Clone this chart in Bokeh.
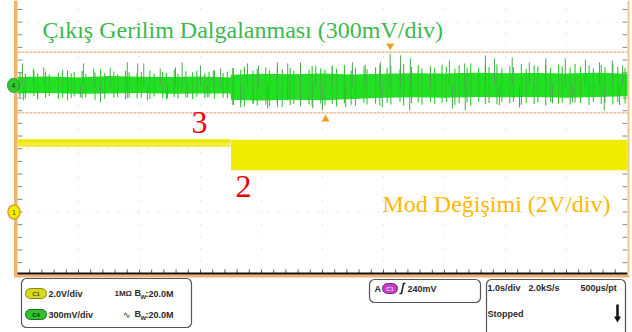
from bokeh.plotting import figure
from bokeh.models import Range1d, BoxAnnotation
from bokeh.core.properties import value
from bokeh.embed import file_html
from bokeh.resources import INLINE

# ---------------- acquisition settings ----------------
SEC_PER_DIV = 1.0          # horizontal: 1.0 s/div, 10 divisions
C1_V_PER_DIV = 2.0         # channel 1: mode change signal
C4_MV_PER_DIV = 300.0      # channel 4: output voltage ripple
C4_OFFSET_DIV = 2.0        # C4 ground marker sits two divisions above C1's

# ---------------- channel 4: output voltage ripple (mV about its marker) --------
c4_core_t = [0.0, 0.5, 1.0, 1.5, 2.0, 2.5, 3.0, 3.49, 3.5, 4.0, 4.5, 5.0,
             5.5, 6.0, 6.5, 7.0, 7.5, 8.0, 8.5, 9.0, 9.5, 10.0]
c4_core_hi = [40, 42, 38, 44, 41, 40, 42, 38, 50, 55, 53, 56,
              52, 55, 58, 56, 60, 57, 59, 56, 60, 55]
c4_core_lo = [-38, -36, -40, -38, -36, -40, -38, -38, -68, -72, -68, -70,
              -65, -58, -56, -58, -55, -56, -55, -58, -55, -52]

# dense ripple excursions (upper / lower extent at each instant)
c4_ripple_t = [0.04, 0.13, 0.27, 0.33, 0.46, 0.52, 0.67, 0.74, 0.88, 0.93,
               1.06, 1.12, 1.27, 1.36, 1.43, 1.58, 1.64, 1.77, 1.83, 1.96,
               2.03, 2.17, 2.24, 2.38, 2.44, 2.57, 2.63, 2.76, 2.87, 2.94,
               3.07, 3.14, 3.23, 3.37, 3.44, 3.53, 3.66, 3.72, 3.86, 3.93,
               4.07, 4.13, 4.26, 4.34, 4.47, 4.53, 4.64, 4.78, 4.83, 4.97,
               5.04, 5.16, 5.23, 5.36, 5.47, 5.54, 5.68, 5.73, 5.87, 5.94,
               6.06, 6.12, 6.27, 6.33, 6.46, 6.57, 6.63, 6.77, 6.84, 6.96,
               7.03, 7.17, 7.24, 7.37, 7.43, 7.56, 7.67, 7.73, 7.86, 7.94,
               8.07, 8.13, 8.26, 8.34, 8.47, 8.53, 8.66, 8.74, 8.87, 8.93,
               9.06, 9.14, 9.23, 9.37, 9.44, 9.57, 9.63, 9.76, 9.84, 9.96]
c4_ripple_hi = [62, 55, 70, 58, 66, 52, 60, 72, 57, 64,
                68, 54, 61, 75, 59, 66, 53, 70, 62, 58,
                65, 71, 56, 63, 60, 74, 55, 67, 61, 69,
                57, 64, 72, 59, 66, 82, 74, 88, 70, 79,
                85, 72, 90, 77, 83, 69, 87, 75, 92, 80,
                74, 88, 79, 95, 71, 84, 90, 76, 86, 98,
                83, 92, 78, 101, 87, 95, 80, 90, 84, 99,
                88, 79, 96, 85, 104, 82, 93, 87, 100, 81,
                91, 86, 102, 78, 95, 89, 97, 84, 99, 90,
                85, 101, 88, 94, 80, 97, 86, 103, 89, 84]
c4_ripple_lo = [-55, -62, -50, -66, -58, -52, -64, -57, -60, -53,
                -61, -56, -68, -52, -63, -58, -55, -66, -59, -62,
                -57, -64, -53, -60, -67, -55, -62, -58, -65, -54,
                -60, -56, -63, -58, -61, -92, -85, -100, -88, -95,
                -90, -98, -84, -102, -93, -87, -99, -91, -96, -86,
                -94, -88, -100, -85, -92, -97, -83, -90, -87, -95,
                -82, -90, -78, -95, -85, -80, -92, -76, -88, -84,
                -79, -93, -85, -81, -97, -77, -89, -84, -91, -80,
                -86, -78, -92, -83, -88, -80, -95, -79, -87, -82,
                -90, -81, -85, -93, -78, -88, -84, -91, -80, -86]

# largest excursions
c4_peak_up_t = [0.08, 0.26, 0.43, 0.82, 1.08, 1.25, 1.52, 1.80, 1.97, 2.07, 2.34,
                2.59, 2.70, 3.00, 3.21, 3.33, 3.54, 3.77, 3.95, 4.26, 4.43, 4.64,
                4.89, 5.16, 5.49, 5.70, 5.95, 6.11, 6.28, 6.44, 6.77, 7.08, 7.33,
                7.67, 7.82, 8.11, 8.39, 8.66, 8.98, 9.31, 9.54, 9.75, 9.92]
c4_peak_up_mv = [104, 80, 85, 71, 104, 80, 85, 109, 104, 104, 80,
                 85, 109, 94, 71, 80, 80, 104, 94, 109, 104, 109,
                 94, 94, 109, 99, 109, 151, 142, 128, 85, 118, 104,
                 142, 128, 132, 109, 128, 128, 123, 109, 118, 94]
c4_peak_dn_t = [0.10, 0.33, 0.82, 1.03, 1.36, 1.80, 2.13, 2.46, 2.79, 3.11, 3.54,
                3.66, 3.87, 4.10, 4.26, 4.43, 4.64, 4.84, 5.00, 5.38, 5.98, 6.43,
                7.13, 7.34, 7.90, 8.23, 8.77, 9.10, 9.62, 9.87]
c4_peak_dn_mv = [-71, -61, -71, -57, -80, -61, -71, -61, -57, -57, -94,
                 -104, -85, -109, -104, -71, -94, -109, -118, -104, -104, -118,
                 -109, -118, -94, -104, -85, -80, -118, -94]

# ---------------- channel 1: mode change signal (V) ----------------
c1_t = [0.0, 3.49, 3.5, 10.0]
c1_hi = [2.30, 2.30, 2.28, 2.28]
c1_lo = [2.05, 2.05, 1.32, 1.32]

# ---------------- cursors (C4 units, mV) ----------------
cursor_mv = [158, -130]
cursor_mark_t = [6.11, 5.05]

# ---------------- screen geometry (pixels of the 632x332 page) ----------------
W, H = 632, 332
GRID_LEFT, DIV_W = 17.0, 61.0
ZERO_Y, DIV_H = 211.5, 63.3


def X(px):
    return (px - GRID_LEFT) / DIV_W * SEC_PER_DIV


def Y(py):
    return (ZERO_Y - py) / DIV_H


def c4(mv):
    return C4_OFFSET_DIV + mv / C4_MV_PER_DIV


def c1(v):
    return v / C1_V_PER_DIV


p = figure(width=W, height=H, output_backend="svg", toolbar_location=None,
           x_range=Range1d(X(0), X(W)), y_range=Range1d(Y(H), Y(0)),
           min_border=0, background_fill_color="white",
           border_fill_color="white", outline_line_color=None)
p.axis.visible = False
p.grid.visible = False

BOTTOM = 273.0
RIGHT = GRID_LEFT + 10 * DIV_W

# dotted graticule
grid_x = [1, 2, 3, 4, 5, 6, 7, 8, 9]
grid_y = [-1, 0, 1, 2, 3]
p.segment(x0=grid_x, y0=[Y(BOTTOM)] * 9, x1=grid_x, y1=[Y(0)] * 9,
          line_color="#cccccc", line_width=1, line_dash="1 11")
p.segment(x0=[0] * 5, y0=grid_y, x1=[10] * 5, y1=grid_y,
          line_color="#cccccc", line_width=1, line_dash="1 9")

# edge ticks (5 minor per division)
minor_y = [k / 5 for k in range(-4, 17)]
p.segment(x0=[0] * len(minor_y), y0=minor_y, x1=[X(GRID_LEFT + 5)] * len(minor_y),
          y1=minor_y, line_color="#888888", line_width=1)
p.segment(x0=[10] * len(minor_y), y0=minor_y, x1=[X(RIGHT - 5)] * len(minor_y),
          y1=minor_y, line_color="#888888", line_width=1)
minor_x = [k / 5 for k in range(1, 50)]
p.segment(x0=minor_x, y0=[Y(BOTTOM)] * len(minor_x), x1=minor_x,
          y1=[Y(BOTTOM - 4)] * len(minor_x), line_color="#555555", line_width=1)

# frame edges
p.quad(left=X(13.5), right=X(GRID_LEFT), bottom=Y(BOTTOM + 3), top=Y(0),
       fill_color="#efb070", line_color=None)
p.quad(left=X(13.5), right=X(RIGHT + 2), bottom=Y(BOTTOM + 4), top=Y(BOTTOM + 1),
       fill_color="#efb070", line_color=None)
p.segment(x0=[X(GRID_LEFT)], y0=[Y(BOTTOM)], x1=[X(RIGHT)], y1=[Y(BOTTOM)],
          line_color="#111111", line_width=2)
p.segment(x0=[X(RIGHT + 1)], y0=[Y(BOTTOM)], x1=[X(RIGHT + 1)], y1=[Y(0)],
          line_color="#f0c890", line_width=2)

# cursor lines
for mv in cursor_mv:
    p.segment(x0=[0], y0=[c4(mv)], x1=[10], y1=[c4(mv)],
              line_color="#e8b070", line_width=1.2, line_dash="3 1")
p.scatter(x=[cursor_mark_t[0]], y=[c4(cursor_mv[0]) + 0.1], marker="inverted_triangle",
          size=8, fill_color="#f0a020", line_color=None)
p.scatter(x=[cursor_mark_t[1]], y=[c4(cursor_mv[1]) - 0.1], marker="triangle",
          size=8, fill_color="#f0a020", line_color=None)

# channel 4 trace
p.varea(x=c4_core_t, y1=[c4(v) for v in c4_core_lo], y2=[c4(v) for v in c4_core_hi],
        fill_color="#22e022")
p.segment(x0=c4_ripple_t, y0=[c4(v) for v in c4_ripple_lo], x1=c4_ripple_t,
          y1=[c4(v) for v in c4_ripple_hi], line_color="#2ec82e", line_width=1.1)
p.segment(x0=c4_peak_up_t, y0=[c4(0)] * len(c4_peak_up_t), x1=c4_peak_up_t,
          y1=[c4(v) for v in c4_peak_up_mv], line_color="#4aa852", line_width=1)
p.segment(x0=c4_peak_dn_t, y0=[c4(0)] * len(c4_peak_dn_t), x1=c4_peak_dn_t,
          y1=[c4(v) for v in c4_peak_dn_mv], line_color="#4aa852", line_width=1)

# channel 1 trace: thin band before the switch, wide band after it
p.varea(x=c1_t[:2], y1=[c1(v) for v in c1_lo[:2]], y2=[c1(v) for v in c1_hi[:2]],
        fill_color="#f2ee40")
p.line(x=c1_t[:2], y=[c1(v) - 0.03 for v in c1_hi[:2]], line_color="#ece800",
       line_width=3)
p.varea(x=c1_t[2:], y1=[c1(v) for v in c1_lo[2:]], y2=[c1(v) for v in c1_hi[2:]],
        fill_color="#f0ec00")

# channel ground markers
p.ellipse(x=[X(13)], y=[c4(0)], width=12 / DIV_W, height=14 / DIV_H,
          fill_color="#30c830", line_color="#20a020")
p.text(x=[X(13)], y=[c4(0)], text=["4"], text_font_size="7px",
       text_align="center", text_baseline="middle", text_color="#0a3a0a")
p.ellipse(x=[X(13.5)], y=[c1(0)], width=12 / DIV_W, height=14 / DIV_H,
          fill_color="#f0f000", line_color="#e0a020", line_width=1.5)
p.text(x=[X(13.5)], y=[c1(0)], text=["1"], text_font_size="7px",
       text_align="center", text_baseline="middle", text_color="#3a3a00")

# annotations on the traces (y = vertical centre of the capitals)
serif = value("Liberation Serif")
p.text(x=[X(42)], y=[Y(29)], text=["Çıkış Gerilim Dalgalanması (300mV/div)"],
       text_font=serif, text_font_size="24px", text_color="#3cb850",
       text_baseline="middle")
p.text(x=[X(382)], y=[Y(203)], text=["Mod Değişimi (2V/div)"],
       text_font=serif, text_font_size="24px", text_color="#ffb800",
       text_baseline="middle")
p.text(x=[X(191)], y=[Y(122)], text=["3"], text_font=serif,
       text_font_size="32px", text_color="#ee0000", text_baseline="middle")
p.text(x=[X(235)], y=[Y(186)], text=["2"], text_font=serif,
       text_font_size="32px", text_color="#ee0000", text_baseline="middle")


# ---------------- status panels ----------------
def panel(left, right, top, bottom, fill="white", line="#555555", radius=5, lw=1.2):
    p.add_layout(BoxAnnotation(left=X(left), right=X(right), top=Y(top), bottom=Y(bottom),
                               fill_color=fill, fill_alpha=1, line_color=line,
                               line_width=lw, line_alpha=1, border_radius=radius,
                               level="underlay"))


sans = value("Liberation Sans")


def label(px, py, txt, size="9px", color="#2a2a2a", align="left", bold=True):
    p.text(x=[X(px)], y=[Y(py)], text=[txt], text_font=sans, text_font_size=size,
           text_color=color, text_align=align, text_baseline="middle",
           text_font_style="bold" if bold else "normal")


panel(21, 191, 278, 327)
panel(369, 480, 279, 302)
panel(486, 625, 279, 340)

panel(25, 46, 288, 298, fill="#d8d820", line="#8a8a00", lw=1)
label(35.5, 293.5, "C1", size="6px", align="center", color="#4a4a00")
label(48, 293, "2.0V/div")
label(114, 293, "1MΩ", size="8px")
label(134, 292, "B")
label(140, 296, "W", size="6px")
label(145, 293, ":20.0M")

panel(25, 46, 309, 319, fill="#30c030", line="#187018", lw=1)
label(35.5, 314.5, "C4", size="6px", align="center", color="#0a300a")
label(48, 314, "300mV/div")
label(122, 314, "∿", size="9px", bold=False)
label(134, 313, "B")
label(140, 317, "W", size="6px")
label(145, 314, ":20.0M")

label(374, 288, "A")
panel(382, 397, 283, 293, fill="#c040c8", line="#802088", lw=1)
label(389.5, 288.5, "C1", size="6px", align="center", color="#f0d0f0")
p.line(x=[X(399), X(401), X(403), X(405)], y=[Y(293), Y(293), Y(283), Y(283)],
       line_color="#222222", line_width=1.5)
label(407, 288, "240mV")

label(487, 287, "1.0s/div")
label(528, 287, "2.0kS/s")
label(580, 287, "500µs/pt")
label(487, 313, "Stopped")
p.segment(x0=[X(617)], y0=[Y(304)], x1=[X(617)], y1=[Y(317)],
          line_color="#111111", line_width=2.5)
p.scatter(x=[X(617)], y=[Y(318)], marker="inverted_triangle", size=7,
          fill_color="#111111", line_color=None)

open("out.html", "w").write(file_html(p, INLINE))
